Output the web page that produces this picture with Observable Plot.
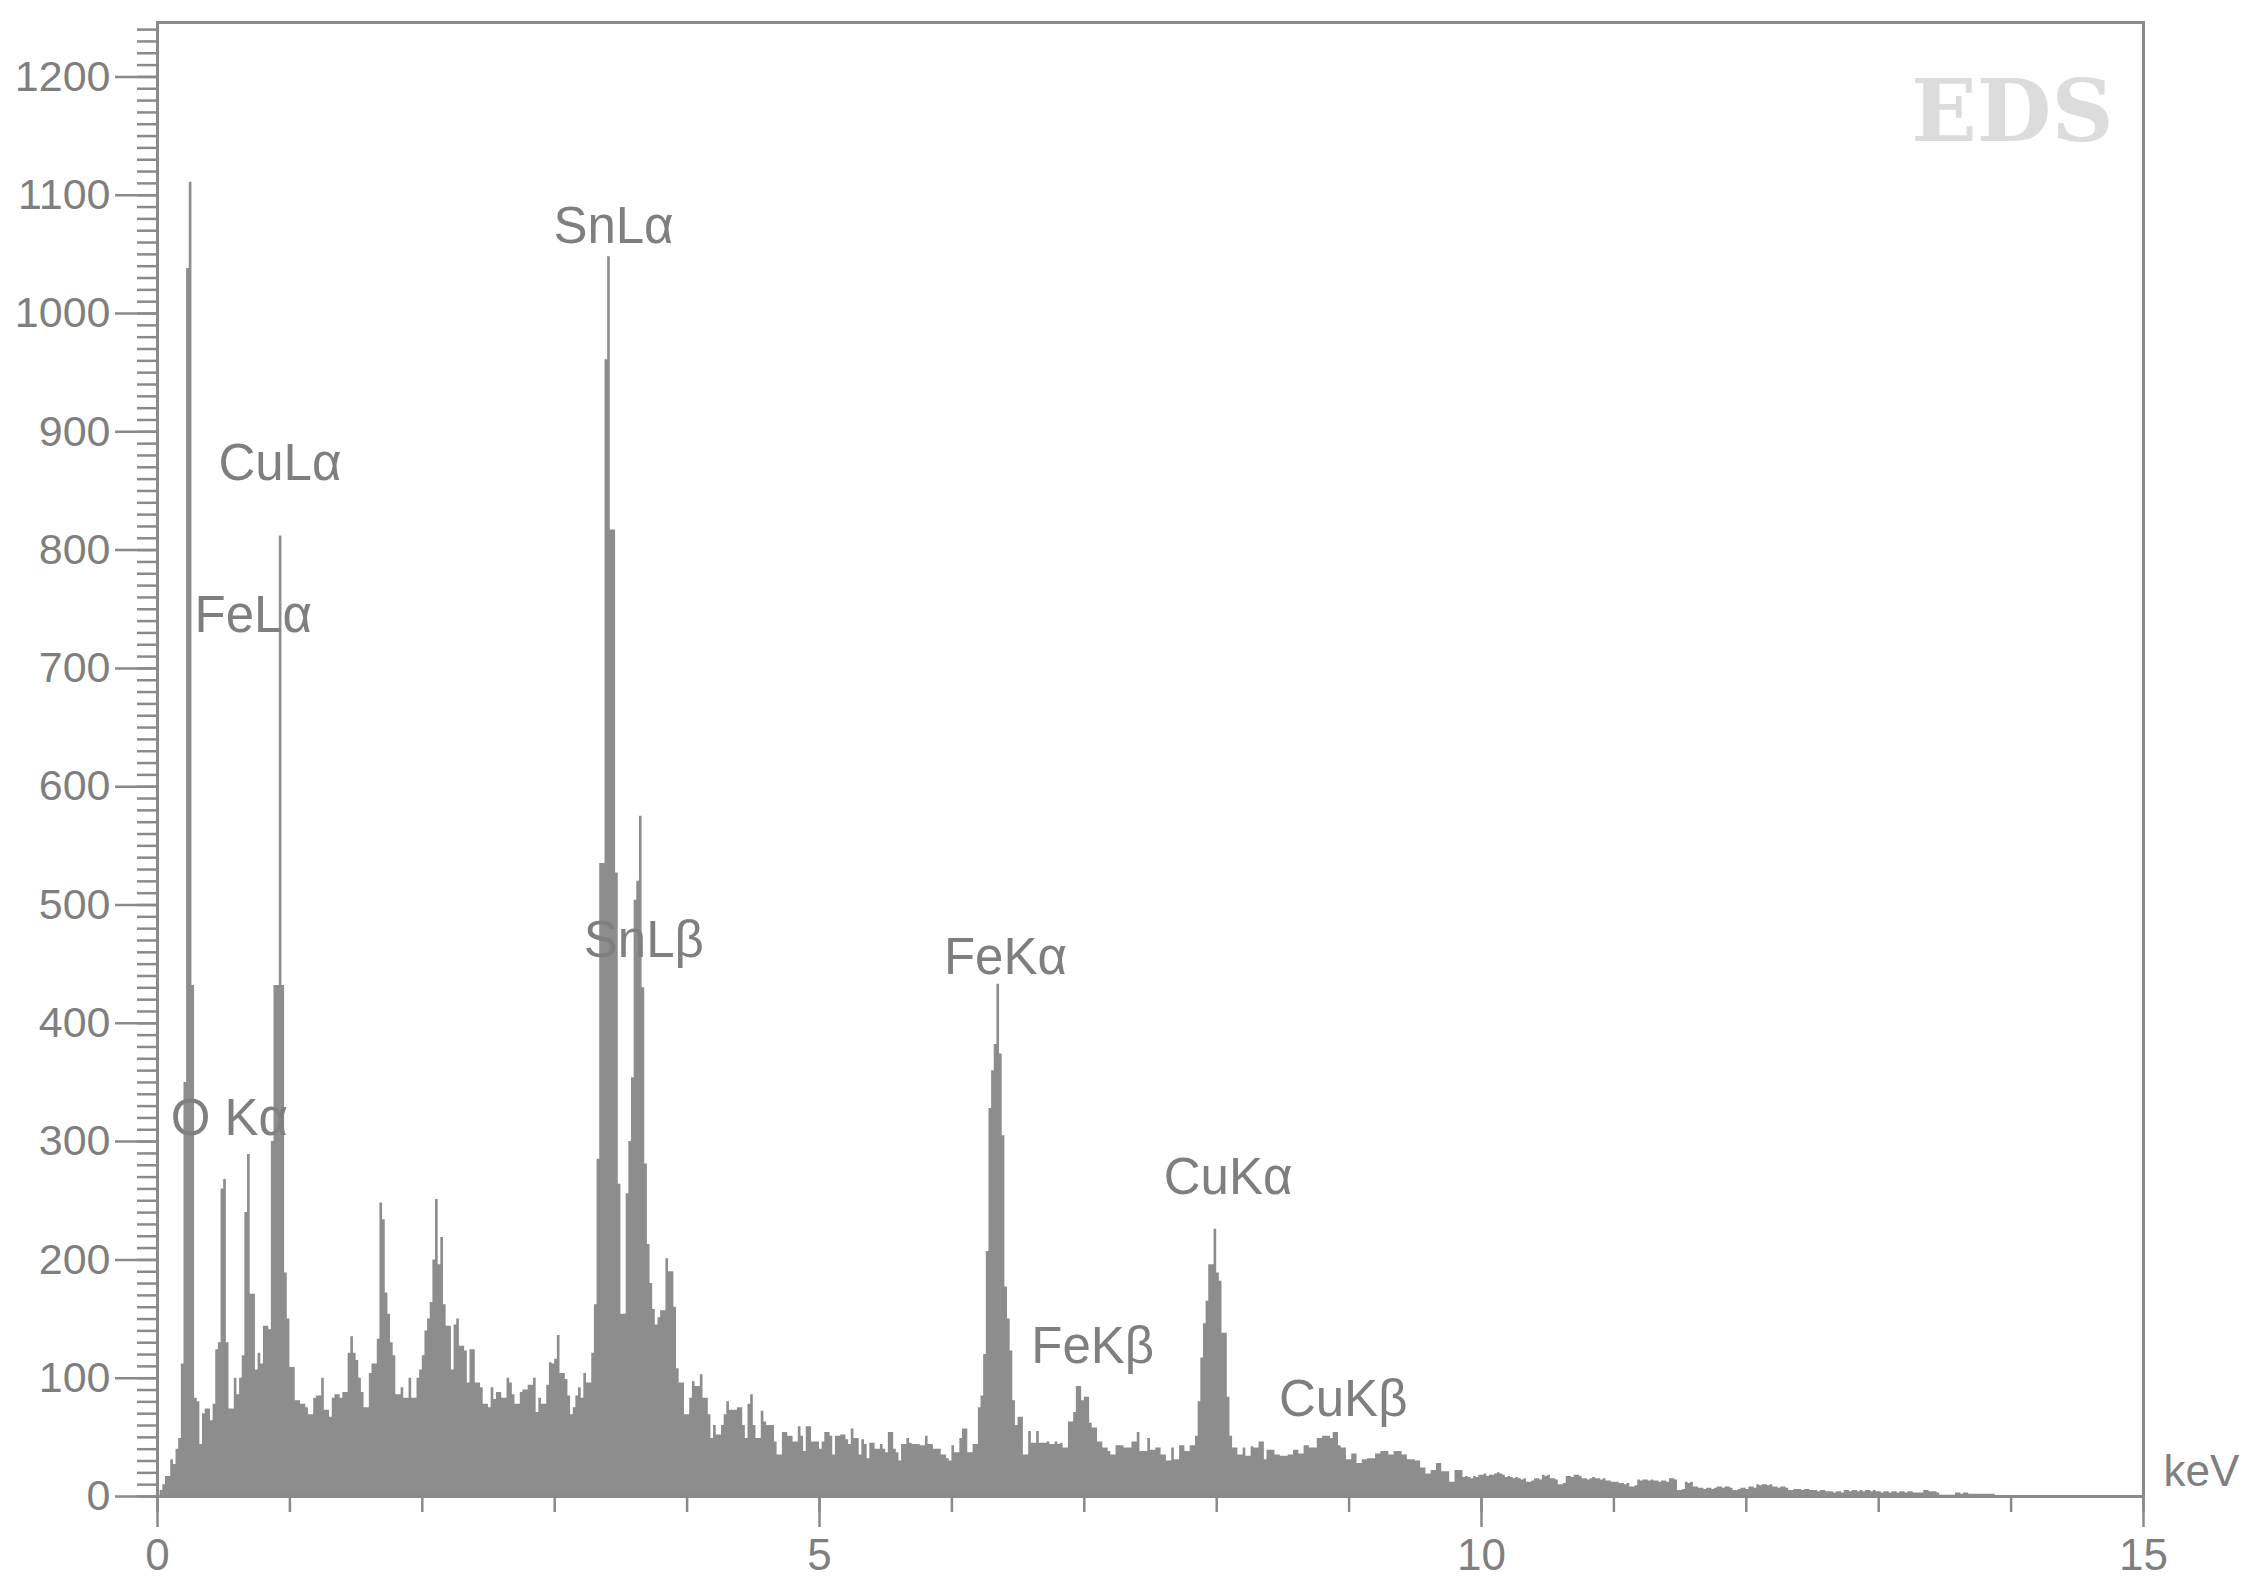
<!DOCTYPE html>
<html>
<head>
<meta charset="utf-8">
<script src="https://cdn.jsdelivr.net/npm/d3@7"></script>
<script src="https://cdn.jsdelivr.net/npm/@observablehq/plot@0.6"></script>
<style>
  html, body { margin: 0; padding: 0; background: #ffffff; }
  svg { display: block; }
</style>
</head>
<body>
<script>
// EDS spectrum: counts per 0.02 keV channel, starting at 0 keV
const channelWidth = 0.02;
const counts = [
  0,5,10,17,17,31,27,40,49,112,
  350,1038,1111,432,83,80,44,70,74,74,
  64,78,124,130,260,268,130,74,74,100,
  86,100,119,240,289,171,171,107,121,112,
  144,144,141,300,432,432,812,432,189,150,
  109,109,81,81,78,78,75,69,69,83,
  85,85,100,73,73,67,83,86,86,83,
  88,88,121,135,121,115,100,88,75,75,
  104,112,112,133,248,234,172,154,130,119,
  86,86,92,83,83,100,83,83,100,107,
  119,140,150,164,200,251,196,219,162,144,
  144,107,145,150,127,127,123,96,124,124,
  96,96,92,78,78,75,92,82,88,88,
  83,83,100,96,86,78,78,88,90,90,
  94,94,100,71,83,78,78,94,113,112,
  116,136,104,104,99,85,69,75,85,92,
  83,104,96,96,121,162,285,535,535,961,
  1048,817,817,527,264,154,154,256,300,354,
  504,520,575,430,281,213,180,158,145,151,
  157,157,201,190,190,160,108,96,96,69,
  69,83,97,93,93,103,83,83,69,49,
  60,52,52,60,69,80,73,73,73,75,
  75,60,49,78,86,60,49,49,72,63,
  60,60,60,46,35,35,54,54,51,51,
  46,46,59,51,38,59,59,46,46,46,
  40,46,54,54,51,35,51,51,52,52,
  48,44,57,49,49,35,48,44,32,45,
  45,40,40,44,40,37,54,54,40,37,
  30,44,44,49,45,44,44,44,43,43,
  51,44,44,40,40,40,35,35,32,30,
  43,37,37,49,57,57,37,37,44,44,
  75,85,120,207,328,360,382,433,374,305,
  177,150,123,81,60,67,67,35,35,55,
  45,45,55,45,45,45,46,44,44,46,
  44,45,41,41,63,63,71,93,93,81,
  84,84,62,58,58,46,46,41,41,38,
  35,35,43,43,43,41,41,41,46,46,
  54,38,38,38,49,39,39,41,41,35,
  35,30,30,41,31,31,43,43,38,38,
  43,43,51,80,117,146,165,196,196,226,
  189,182,138,138,84,51,41,41,35,35,
  41,34,34,42,41,41,46,46,31,39,
  39,39,35,35,34,34,34,35,35,39,
  39,36,36,43,43,41,41,41,49,49,
  51,51,51,49,54,54,43,41,41,31,
  31,36,36,28,28,31,31,32,32,32,
  36,36,38,38,38,35,35,38,38,38,
  35,35,31,31,31,30,30,24,24,19,
  19,22,22,28,28,21,21,21,12,12,
  22,22,22,16,17,16,15,17,16,18,
  18,19,17,18,18,19,20,19,18,16,
  17,16,15,16,15,14,15,12,12,13,
  15,15,14,18,17,18,15,15,14,10,
  10,11,17,17,16,18,18,17,15,15,
  14,15,16,15,15,14,15,13,13,12,
  12,12,11,11,10,11,8,8,9,14,
  13,14,14,13,14,13,13,12,13,13,
  12,15,15,14,5,5,6,12,11,12,
  8,8,7,7,6,7,7,6,7,8,
  8,7,8,8,7,5,5,6,7,7,
  6,8,8,7,10,9,10,10,9,10,
  8,8,7,8,8,7,5,5,6,6,
  6,5,6,6,5,5,5,4,5,5,
  4,4,4,3,4,4,3,5,5,4,
  5,5,4,5,4,5,5,4,5,4,
  4,3,4,4,3,4,4,3,4,4,
  3,4,4,3,3,3,3,5,5,4,
  4,4,3,1,1,1,1,1,1,3,
  3,2,3,3,2,2,2,2,2,2,
  2,2,2,2,0
];

// Peak annotations (label text, anchor energy in keV, anchor count level)
const peakLabels = ["SnLα", "CuLα", "FeLα", "O Kα", "SnLβ", "FeKα", "CuKα", "FeKβ", "CuKβ"];
const labelKeV    = [2.99, 0.46, 0.28, 0.10, 3.22, 5.94, 7.60, 6.60, 8.47];
const labelCounts = [1060, 859, 731, 306, 456, 442, 256, 113, 68];

// Axis tick labels
const xTickLabels = [0, 5, 10, 15];
const yTickLabels = [0, 100, 200, 300, 400, 500, 600, 700, 800, 900, 1000, 1100, 1200];

const spectrum = counts.map((c, i) => ({keV: i * channelWidth, counts: c}));
const labels = peakLabels.map((t, i) => ({text: t, keV: labelKeV[i], counts: labelCounts[i]}));

const gray = "#8a8a8a";
const textGray = "#7f7f7f";
const font = "'Liberation Sans', Arial, sans-serif";

const chart = Plot.plot({
  width: 2253,
  height: 1591,
  marginLeft: 157,
  marginRight: 110,
  marginTop: 22,
  marginBottom: 95,
  style: {fontFamily: font, fontSize: "43px", color: textGray, background: "#ffffff", overflow: "visible"},
  x: {domain: [0, 15], label: null},
  y: {domain: [0, 1246], label: null},
  marks: [
    Plot.areaY(spectrum, {x: "keV", y: "counts", curve: "step-after", fill: "#8d8d8d"}),
    Plot.frame({stroke: gray, strokeWidth: 3}),
    Plot.axisY({ticks: d3.range(0, 1250, 10), tickSize: 20, stroke: gray, strokeWidth: 2.5, fill: "none", label: null}),
    Plot.axisY({ticks: yTickLabels, tickSize: 42, tickPadding: 5, stroke: gray, strokeWidth: 2.5, fill: textGray, fontSize: 43, label: null, tickFormat: d => String(d)}),
    Plot.axisX({ticks: d3.range(0, 16, 1), tickSize: 16, stroke: gray, strokeWidth: 2.5, fill: "none", label: null}),
    Plot.axisX({ticks: xTickLabels, tickSize: 31, tickPadding: 11, stroke: gray, strokeWidth: 2.5, fill: textGray, fontSize: 44, label: null, tickFormat: d => String(d)}),
    Plot.text(labels, {x: "keV", y: "counts", text: "text", textAnchor: "start", lineAnchor: "bottom", fontSize: 51, fill: textGray, fontFamily: font}),
    Plot.text(["EDS"], {frameAnchor: "top-right", textAnchor: "end", lineAnchor: "bottom", dx: -30, dy: 118, fontSize: 86, fontWeight: "bold", fontFamily: "'DejaVu Serif', 'Liberation Serif', serif", fill: "#dcdcdc"}),
    Plot.text(["keV"], {frameAnchor: "bottom-right", textAnchor: "start", lineAnchor: "bottom", dx: 20, dy: -11, fontSize: 44, fill: textGray, fontFamily: font})
  ]
});

document.body.appendChild(chart);
</script>
</body>
</html>
